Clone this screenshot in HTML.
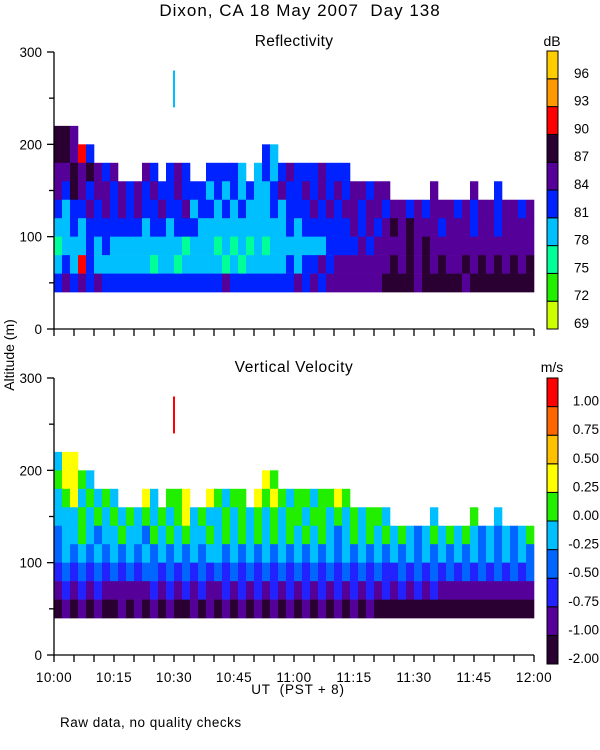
<!DOCTYPE html>
<html><head><meta charset="utf-8"><style>
html,body{margin:0;padding:0;background:#fff;width:600px;height:750px;overflow:hidden}
svg text{font-family:"Liberation Sans",sans-serif;fill:#000}
</style></head><body>
<svg id="chart" width="600" height="750" viewBox="0 0 600 750" xmlns="http://www.w3.org/2000/svg">
<text x="300" y="16" font-size="17" letter-spacing="1" text-anchor="middle" xml:space="preserve">Dixon, CA 18 May 2007  Day 138</text>
<text x="294" y="46" font-size="15.5" letter-spacing="0.3" text-anchor="middle">Reflectivity</text>
<text x="294" y="372" font-size="15.5" letter-spacing="0.6" text-anchor="middle">Vertical Velocity</text>
<text x="0" y="0" font-size="14" text-anchor="middle" transform="translate(14,355) rotate(-90)">Altitude (m)</text>
<text x="298" y="694" font-size="13.5" letter-spacing="0.8" text-anchor="middle" xml:space="preserve">UT  (PST + 8)</text>
<text x="60" y="727" font-size="13.5" letter-spacing="0.5">Raw data, no quality checks</text>
<text x="552" y="46" font-size="14" text-anchor="middle">dB</text>
<text x="552" y="372" font-size="14" text-anchor="middle">m/s</text>
<g id="g"></g>
</svg>
<script>
// ---- data ----
const timeBinMinutes = 2;
const heightBins = [200,180,160,140,120,100,80,60,40]; // bin bottoms (m), 20 m tall
const reflTops = [220,220,220,200,200,180,180,180,160,160,160,180,180,160,180,180,180,160,160,180,180,180,180,180,160,180,200,200,180,180,180,180,180,180,180,180,180,160,160,160,160,160,140,140,140,140,140,160,140,140,140,140,160,140,140,160,140,140,140,140];
const velTops = [220,220,220,200,200,180,180,180,160,160,160,180,180,160,180,180,180,160,160,180,180,180,180,180,160,180,200,200,180,180,180,180,180,180,180,180,180,160,160,160,160,160,140,140,140,140,140,160,140,140,140,140,160,140,140,160,140,140,140,140];
const reflRows = [
"665644444444444444444444444344444444444444444444444444444444",
"665744444444444444444444444343444444444444444444444444444444",
"556565454445444544444443434345444544454545454454454544545454",
"546545545454544544434343433454454545455455454545545454545445",
"434454545454454453443434333434445454554554554545554545545545",
"334344444443443444333333333334344444454545656555455545545555",
"233343433333333323332323232333333344445455556565555555555555",
"343743333333233233333232333334344545555555656565655656565656",
"454545444444444444444544444444545455555556666566666566666666"];
const velRows = [
"466444444444444444444444445444444444444444444444444444444444",
"566545444444445464555455456545544444444444444444444444444444",
"456454545656455564565455465654554556545455555455655454545456",
"444545454545454564544545454545545545454554545454545454545456",
"344543445443545454454545454545454543454545454345454543434345",
"343434343434343434344343434343434343434343434343434343434343",
"232323232323323232323232323232323232323232232323232323232323",
"121212111111212121211212121212121212121212121212111111111111",
"010101001010101001010101010101010101010100000000000000000000"];
const reflColors = ["#ccff00","#22ee00","#00ff99","#00bfff","#0022ff","#550099","#2a0033","#ff0000","#ff9900","#ffcc00"];
const velColors = ["#2a0033","#550099","#2222ff","#0066ff","#00bfff","#22ee00","#ffff00","#ffc000","#ff6600","#ff0000"];
const reflLabels = ["69","72","75","78","81","84","87","90","93","96"];
const velLabels = ["-2.00","-1.00","-0.75","-0.50","-0.25","0.00","0.25","0.50","0.75","1.00"];
const timeLabels = ["10:00","10:15","10:30","10:45","11:00","11:15","11:30","11:45","12:00"];
const altLabels = [0,100,200,300];
const reflSpike = {t:30, h0:240, h1:280, c:3};
const velSpike = {t:30, h0:240, h1:280, c:9};

// ---- axes ----
const X0=54, XW=480, TMAX=120;
const xs = t => X0 + t/TMAX*XW;
const panels = [{y0:329, cbTop:51, cbBot:329, tops:reflTops, rows:reflRows, colors:reflColors, labels:reflLabels, spike:reflSpike, name:'reflectivity'},
                {y0:655, cbTop:378, cbBot:664, tops:velTops, rows:velRows, colors:velColors, labels:velLabels, spike:velSpike, name:'velocity'}];
const NS="http://www.w3.org/2000/svg";
const g=document.getElementById('g');
function mk(tag, attrs, parent){const e=document.createElementNS(NS,tag);for(const k in attrs)e.setAttribute(k,attrs[k]);(parent||g).appendChild(e);return e;}

panels.forEach(p=>{
  const ys = h => p.y0 - h*277/300;
  const pg = mk('g',{});
  
  
  heightBins.forEach((hb,ri)=>{
    const row=p.rows[ri];
    for(let i=0;i<p.tops.length;i++){
      if(hb>=p.tops[i]) continue;
      const c=+row[i];
      const r=mk('rect',{x:xs(i*timeBinMinutes),y:ys(hb+20),width:xs((i+1)*timeBinMinutes)-xs(i*timeBinMinutes)+0.3,height:ys(hb)-ys(hb+20)+0.3,fill:p.colors[c]},pg);
      
      
    }
  });
  const s=p.spike;
  const sp=mk('rect',{x:xs(s.t)-1,y:ys(s.h1),width:2,height:ys(s.h0)-ys(s.h1),fill:p.colors[s.c]},pg);
  
  
  const ax=mk('g',{stroke:'#000','stroke-width':1.3,fill:'none'});
  
  
  mk('line',{x1:X0,y1:ys(300),x2:X0,y2:p.y0},ax);
  mk('line',{x1:X0,y1:p.y0,x2:X0+XW,y2:p.y0},ax);
  for(let h=0;h<=300;h+=50){mk('line',{x1:X0-(h%100?5:7),y1:ys(h),x2:X0,y2:ys(h)},ax);}
  for(let t=0;t<=TMAX;t+=5){mk('line',{x1:xs(t),y1:p.y0,x2:xs(t),y2:p.y0+7},ax);}
  altLabels.forEach(a=>{
    const tx=mk('text',{x:X0-12,y:ys(a)+5,'font-size':13.5,'text-anchor':'end'});
    tx.textContent=a;
    
    
  });
  const n=p.colors.length, segH=(p.cbBot-p.cbTop)/n;
  const cb=mk('g',{});
  
  
  for(let k=0;k<n;k++){
    const yb=p.cbBot-k*segH;
    mk('rect',{x:547,y:yb-segH,width:11,height:segH,fill:p.colors[k],stroke:'#000','stroke-width':1},cb);
    const tx=mk('text',{x:p.name==='velocity'?599:589,y:yb-1,'font-size':13.5,'text-anchor':'end'},cb);
    tx.textContent=p.labels[k];
    
    
  }
});
timeLabels.forEach((l,i)=>{
  const tx=mk('text',{x:xs(i*15),y:682,'font-size':13.5,'letter-spacing':0.5,'text-anchor':'middle'});
  tx.textContent=l;
  
  
});
</script>
</body></html>
